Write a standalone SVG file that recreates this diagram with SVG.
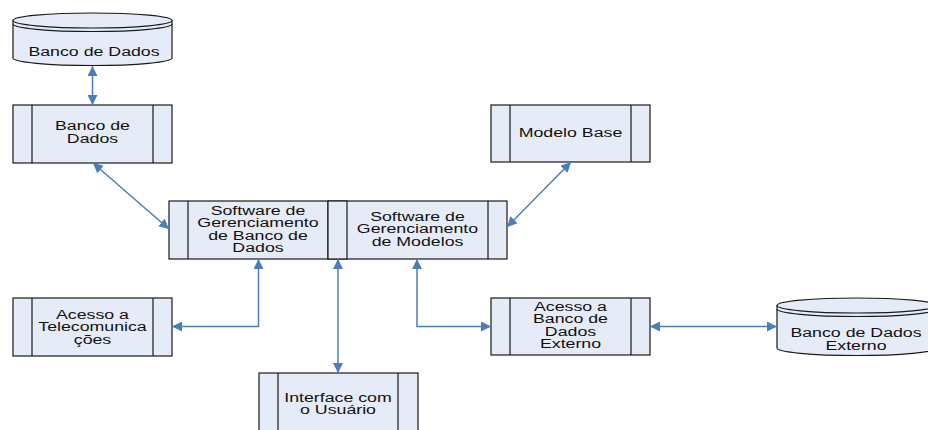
<svg xmlns="http://www.w3.org/2000/svg" width="928" height="430" viewBox="0 0 928 430">
  <style>
    .box { fill: #e6ecf7; stroke: #1a1a1a; stroke-width: 1.2; }
    .bar { fill: none; stroke: #1a1a1a; stroke-width: 1.2; }
    .lbl { font-family: "Liberation Sans", Arial, sans-serif; font-size: 12.5px; fill: #111; text-anchor: middle; }
    .link { fill: none; stroke: #4a7ebb; stroke-width: 1.5; }
  </style>
  <defs>
    <marker id="head" markerUnits="userSpaceOnUse" markerWidth="12" markerHeight="10" refX="10" refY="5" orient="auto-start-reverse">
      <path d="M0,0 L10,5 L0,10 Z" fill="#4a7ebb"/>
    </marker>
  </defs>
  <rect width="928" height="430" fill="#ffffff"/>

  <!-- database: Banco de Dados -->
  <g id="db-top">
    <path class="box" d="M13,20.5 A79.5,7.5 0 0 1 172,20.5 V58 A79.5,7.5 0 0 1 13,58 Z"/>
    <path class="bar" d="M13,20.5 A79.5,7.5 0 0 0 172,20.5"/>
    <path class="bar" d="M13,24 A79.5,7.5 0 0 0 172,24"/>
    <text class="lbl" transform="translate(94,0) scale(1.42,1)" x="0" y="56">Banco de Dados</text>
  </g>

  <!-- process: Banco de Dados -->
  <g id="banco">
    <rect class="box" x="13" y="105" width="159" height="58"/>
    <path class="bar" d="M32,105 V163 M153,105 V163"/>
    <text class="lbl" transform="translate(92.5,0) scale(1.42,1)" x="0" y="130.5">Banco de</text>
    <text class="lbl" transform="translate(92.5,0) scale(1.42,1)" x="0" y="143">Dados</text>
  </g>

  <!-- process: Modelo Base -->
  <g id="modelo-base">
    <rect class="box" x="491" y="105" width="159" height="57"/>
    <path class="bar" d="M510,105 V162 M631,105 V162"/>
    <text class="lbl" transform="translate(570.5,0) scale(1.42,1)" x="0" y="137.5">Modelo Base</text>
  </g>

  <!-- process: Software de Gerenciamento de Banco de Dados -->
  <g id="sgbd">
    <rect class="box" x="169" y="201" width="178" height="58"/>
    <path class="bar" d="M188,201 V259 M328,201 V259"/>
    <text class="lbl" transform="translate(258,0) scale(1.42,1)" x="0" y="215">Software de</text>
    <text class="lbl" transform="translate(258,0) scale(1.42,1)" x="0" y="227.5">Gerenciamento</text>
    <text class="lbl" transform="translate(258,0) scale(1.42,1)" x="0" y="240">de Banco de</text>
    <text class="lbl" transform="translate(258,0) scale(1.42,1)" x="0" y="252.5">Dados</text>
  </g>

  <!-- process: Software de Gerenciamento de Modelos -->
  <g id="sgm">
    <rect class="box" x="328" y="201" width="179" height="58"/>
    <path class="bar" d="M347,201 V259 M488,201 V259"/>
    <text class="lbl" transform="translate(417.5,0) scale(1.42,1)" x="0" y="221">Software de</text>
    <text class="lbl" transform="translate(417.5,0) scale(1.42,1)" x="0" y="233.5">Gerenciamento</text>
    <text class="lbl" transform="translate(417.5,0) scale(1.42,1)" x="0" y="246">de Modelos</text>
  </g>

  <!-- process: Acesso a Telecomunicações -->
  <g id="telecom">
    <rect class="box" x="13" y="298" width="159" height="58"/>
    <path class="bar" d="M32,298 V356 M153,298 V356"/>
    <text class="lbl" transform="translate(92.5,0) scale(1.42,1)" x="0" y="319">Acesso a</text>
    <text class="lbl" transform="translate(92.5,0) scale(1.42,1)" x="0" y="331.5">Telecomunica</text>
    <text class="lbl" transform="translate(92.5,0) scale(1.42,1)" x="0" y="344">ções</text>
  </g>

  <!-- process: Interface com o Usuário -->
  <g id="interface">
    <rect class="box" x="259" y="373" width="159" height="58"/>
    <path class="bar" d="M278,373 V431 M398,373 V431"/>
    <text class="lbl" transform="translate(338,0) scale(1.42,1)" x="0" y="402">Interface com</text>
    <text class="lbl" transform="translate(338,0) scale(1.42,1)" x="0" y="414.5">o Usuário</text>
  </g>

  <!-- process: Acesso a Banco de Dados Externo -->
  <g id="acesso-externo">
    <rect class="box" x="491" y="298" width="159" height="57"/>
    <path class="bar" d="M510,298 V355 M631,298 V355"/>
    <text class="lbl" transform="translate(570.5,0) scale(1.42,1)" x="0" y="311">Acesso a</text>
    <text class="lbl" transform="translate(570.5,0) scale(1.42,1)" x="0" y="323.5">Banco de</text>
    <text class="lbl" transform="translate(570.5,0) scale(1.42,1)" x="0" y="336">Dados</text>
    <text class="lbl" transform="translate(570.5,0) scale(1.42,1)" x="0" y="348.5">Externo</text>
  </g>

  <!-- database: Banco de Dados Externo -->
  <g id="db-externo">
    <path class="box" d="M777,305.5 A79.5,7.5 0 0 1 936,305.5 V348 A79.5,7.5 0 0 1 777,348 Z"/>
    <path class="bar" d="M777,305.5 A79.5,7.5 0 0 0 936,305.5"/>
    <path class="bar" d="M777,309 A79.5,7.5 0 0 0 936,309"/>
    <text class="lbl" transform="translate(856,0) scale(1.42,1)" x="0" y="337.5">Banco de Dados</text>
    <text class="lbl" transform="translate(856,0) scale(1.42,1)" x="0" y="350.5">Externo</text>
  </g>

  <!-- connectors -->
  <g id="connectors">
    <path class="link" d="M92.5,66 V105" marker-start="url(#head)" marker-end="url(#head)"/>
    <path class="link" d="M93,163 L169,229" marker-start="url(#head)" marker-end="url(#head)"/>
    <path class="link" d="M571,162 L507,227" marker-start="url(#head)" marker-end="url(#head)"/>
    <path class="link" d="M258.5,259 V326.5 H172" marker-start="url(#head)" marker-end="url(#head)"/>
    <path class="link" d="M338,259 V373" marker-start="url(#head)" marker-end="url(#head)"/>
    <path class="link" d="M417,259 V326.5 H491" marker-start="url(#head)" marker-end="url(#head)"/>
    <path class="link" d="M650,326.5 H777" marker-start="url(#head)" marker-end="url(#head)"/>
  </g>
</svg>
